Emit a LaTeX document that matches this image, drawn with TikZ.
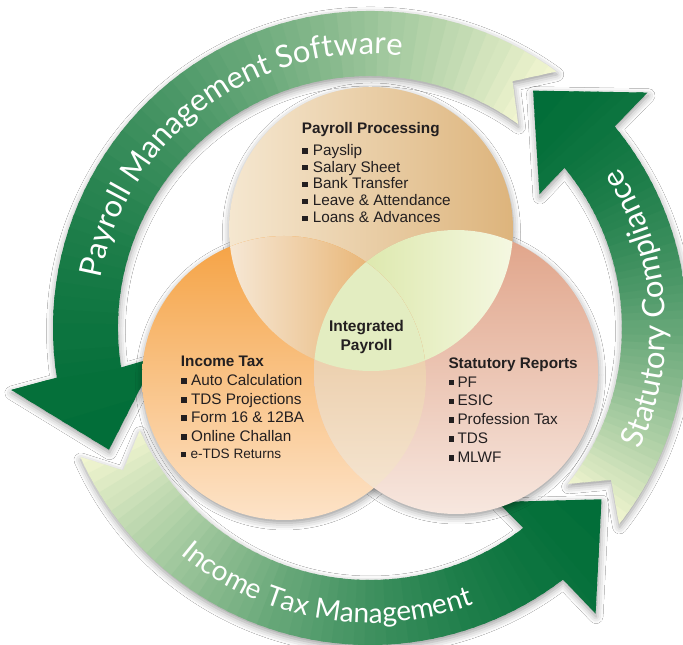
\documentclass[tikz,border=0pt]{standalone}
\usepackage{fontspec}
\setmainfont{Liberation Sans}
\newfontfamily\arcfont{Lato}
\usepackage{tikz}
\usetikzlibrary{decorations.text,shadows.blur}

\definecolor{ringdark}{HTML}{006D37}
\definecolor{ringlight}{HTML}{F1F5D0}
\definecolor{ink}{HTML}{231F20}

\newcommand{\sqb}[1][4.6pt]{\rule[1.6pt]{5.6pt}{5.6pt}\hspace{#1}}
\newcommand{\arcstyle}{\arcfont\fontsize{31}{31}\selectfont\color{white}}
\newcommand{\arcsmall}{\arcfont\fontsize{28}{28}\selectfont\color{white}}

% ring arrow: tail angle, head base angle (ring centre at origin)
\newcommand{\ringarrow}[2]{(#1:317) arc[start angle=#1, end angle=#2, radius=317]
  -- (#2+0.8:364) -- (#2+16:288) -- (#2-1.2:216) -- (#2:252)
  arc[start angle=#2, end angle=#1, radius=252] -- (#1+6:285) -- cycle}

% light tail to dark head
\newcommand{\ringshade}[2]{%
  \pgfmathsetmacro{\ringspan}{#2+16-(#1)}
  \foreach \k in {0,...,59}{
    \pgfmathsetmacro{\wa}{#1+\k*\ringspan/60-0.7}
    \pgfmathsetmacro{\wb}{#1+(\k+1)*\ringspan/60}
    \pgfmathtruncatemacro{\pc}{100*(1-(1-\k/60)^1.7)}
    \fill[ringdark!\pc!ringlight] (0,0) -- (\wa:390) arc[start angle=\wa, end angle=\wb, radius=390] -- cycle;
  }}

\begin{document}
\begin{tikzpicture}[
    x=1pt, y=1pt,
    softshadow/.style={
        blur shadow={shadow xshift=0.5pt, shadow yshift=-3pt,
            shadow blur radius=7pt, shadow opacity=40}
    },
    ringtext/.style={
        decorate,
        decoration={text along path, text align=center, text={#1}}
    },
    block/.style={
        anchor=north west,
        inner sep=0pt,
        align=left,
        text=ink,
        font=\fontsize{15.3}{#1}\selectfont
    },
    core/.style={
        anchor=north,
        inner sep=0pt,
        align=center,
        text=ink,
        font=\bfseries\fontsize{15.5}{19}\selectfont
    }
]

\useasboundingbox (0,0) rectangle (683,645);
\fill[white] (0,0) rectangle (683,645);

\coordinate (ring) at (370,317);
\coordinate (pp) at (371,416);
\coordinate (it) at (284,267);
\coordinate (sr) at (456,273);

% ring of arrows
\begin{scope}[shift={(ring)}]
    \path[softshadow] \ringarrow{54}{189};
    \path[softshadow] \ringarrow{204}{307.5};
    \path[softshadow] \ringarrow{-38.2}{39.5};

    \begin{scope}
        \clip \ringarrow{54}{189};
        \ringshade{54}{189}
    \end{scope}
    \begin{scope}
        \clip \ringarrow{204}{307.5};
        \ringshade{204}{307.5}
    \end{scope}
    \begin{scope}
        \clip \ringarrow{-38.2}{39.5};
        \ringshade{-38.2}{39.5}
    \end{scope}

    \path[ringtext={|\arcstyle|Payroll Management Software}]
        (176.5:274) arc[start angle=176.5, end angle=76.5, radius=274];
    \path[ringtext={|\arcsmall|Income Tax Management}]
        (215.3:295) arc[start angle=215.3, end angle=305.2, radius=295];
    \path[ringtext={|\arcstyle|Statutory Compliance}]
        (-40.2:296) arc[start angle=-40.2, end angle=48.8, radius=296];
\end{scope}

% three circles
\path[softshadow] (pp) circle[radius=142];
\path[softshadow] (it) circle[radius=142];
\path[softshadow] (sr) circle[radius=142];

\shade[left color={rgb,255:red,245;green,231;blue,208}, right color={rgb,255:red,221;green,180;blue,124}]
    (pp) circle[radius=142];
\shade[top color={rgb,255:red,245;green,162;blue,67}, bottom color={rgb,255:red,253;green,227;blue,200}]
    (it) circle[radius=142];
\shade[top color={rgb,255:red,224;green,163;blue,136}, bottom color={rgb,255:red,247;green,231;blue,223}]
    (sr) circle[radius=142];

% overlaps
\begin{scope}
    \clip (pp) circle[radius=142];
    \clip (sr) circle[radius=142];
    \shade[shading angle=30, left color={rgb,255:red,213;green,227;blue,156}, right color={rgb,255:red,245;green,248;blue,226}]
        (313,273) rectangle (514,416);
\end{scope}
\begin{scope}
    \clip (pp) circle[radius=142];
    \clip (it) circle[radius=142];
    \shade[left color={rgb,255:red,246;green,232;blue,214}, right color={rgb,255:red,227;green,162;blue,81}]
        (228,273) rectangle (427,410);
\end{scope}
\begin{scope}
    \clip (it) circle[radius=142];
    \clip (sr) circle[radius=142];
    \shade[top color={rgb,255:red,229;green,189;blue,143}, bottom color={rgb,255:red,246;green,232;blue,214}]
        (313,130) rectangle (427,410);
\end{scope}
\begin{scope}
    \clip (pp) circle[radius=142];
    \clip (it) circle[radius=142];
    \fill[fill={rgb,255:red,227;green,237;blue,193}] (sr) circle[radius=142];
\end{scope}

% texts
\node[block=16.9] (proc) at (301.7,523.1) {\textbf{Payroll Processing}\\[5.1pt]
    \sqb[5.4pt]Payslip\\
    \sqb[5.4pt]Salary Sheet\\
    \sqb[5.4pt]Bank Transfer\\
    \sqb[5.4pt]Leave \& Attendance\\
    \sqb[5.4pt]Loans \& Advances};

\node[block=18.5] (tax) at (180.7,289.4) {\textbf{Income Tax}\\[0.8pt]
    \sqb Auto Calculation\\
    \sqb TDS Projections\\
    \sqb Form 16 \& 12BA\\
    \sqb Online Challan\\[-0.8pt]
    {\fontsize{13.6}{16}\selectfont\rule[1.4pt]{5pt}{5pt}\hspace{4.6pt}e-TDS Returns}};

\node[block=18.8] (stat) at (448.3,287.8) {\textbf{Statutory Reports}\\[0.2pt]
    \sqb[3.4pt]PF\\
    \sqb[3.4pt]ESIC\\
    \sqb[3.4pt]Profession Tax\\
    \sqb[3.4pt]TDS\\
    \sqb[3.4pt]MLWF};

\node[core] (mid) at (366.5,325.1) {Integrated\\Payroll};

\end{tikzpicture}
\end{document}
